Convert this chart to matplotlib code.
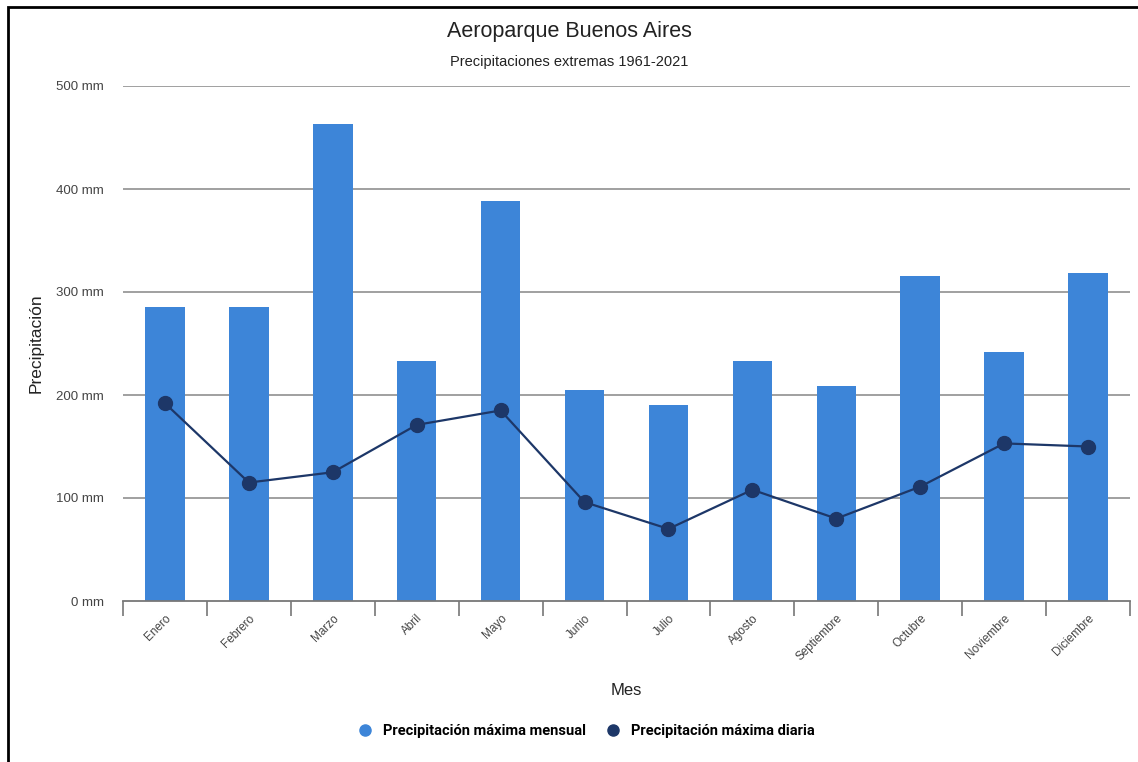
import matplotlib
matplotlib.use("Agg")
import matplotlib.pyplot as plt
import numpy as np
from matplotlib.lines import Line2D
from matplotlib.patches import Rectangle

meses = ["Enero", "Febrero", "Marzo", "Abril", "Mayo", "Junio", "Julio",
         "Agosto", "Septiembre", "Octubre", "Noviembre", "Diciembre"]
max_mensual = [285, 285, 463, 233, 388, 205, 190, 233, 209, 316, 242, 318]
max_diaria = [192, 115, 125, 171, 185, 96, 70, 108, 80, 111, 153, 150]
yticks = [0, 100, 200, 300, 400, 500]

bar_color = "#3d85d8"
line_color = "#1d3768"
text_color = "#444444"

plt.rcParams["font.family"] = ["Liberation Sans", "DejaVu Sans"]

fig = plt.figure(figsize=(11.38, 7.62), dpi=100)
ax = fig.add_axes([123 / 1138, 1 - 601 / 762, 1007 / 1138, 515 / 762])

x = np.arange(len(meses))
ax.bar(x, max_mensual, width=0.47, color=bar_color, zorder=2)
ax.plot(x, max_diaria, color=line_color, lw=1.6, marker="o", ms=10,
        markerfacecolor=line_color, markeredgecolor=line_color, zorder=3)

ax.set_xlim(-0.5, len(meses) - 0.5)
ax.set_ylim(0, 500)

# grid lines (the zero line is drawn as the bottom axis)
for v in yticks[1:]:
    ax.axhline(v, color="#999999", lw=1.3, zorder=1)

for s in ["top", "right", "left"]:
    ax.spines[s].set_visible(False)
ax.spines["bottom"].set_color("#777777")
ax.spines["bottom"].set_linewidth(1.3)

ax.set_yticks(yticks)
ax.set_yticklabels([f"{v} mm" for v in yticks], fontsize=9.5, color=text_color)
ax.tick_params(axis="y", length=0, pad=14)

# category labels centred, ticks on the boundaries
ax.set_xticks(x)
ax.set_xticklabels(meses, rotation=45, ha="right", rotation_mode="anchor",
                   fontsize=8.5, color=text_color)
ax.tick_params(axis="x", which="major", length=0, pad=8)
ax.set_xticks(np.arange(-0.5, len(meses)), minor=True)
ax.tick_params(axis="x", which="minor", length=11, width=1.2, color="#777777")

ax.set_ylabel("Precipitación", fontsize=12.5, color="#222222")
ax.yaxis.set_label_coords(-0.079, 0.5)
ax.set_xlabel("Mes", fontsize=12, color="#222222")
ax.xaxis.set_label_coords(0.5, -0.16)

fig.text(0.5, 1 - 32 / 762, "Aeroparque Buenos Aires", ha="center", va="center",
         fontsize=15.5, color="#222222")
fig.text(0.5, 1 - 62 / 762, "Precipitaciones extremas 1961-2021", ha="center",
         va="center", fontsize=10.5, color="#222222")

handles = [
    Line2D([], [], ls="none", marker="o", ms=8, color=bar_color),
    Line2D([], [], ls="none", marker="o", ms=8, color=line_color),
]
fig.legend(handles, ["Precipitación máxima mensual", "Precipitación máxima diaria"],
           loc="center", bbox_to_anchor=(0.512, 1 - 731 / 762), ncol=2, frameon=False,
           prop={"family": "Roboto", "weight": "bold", "size": 10.5},
           handletextpad=0.2, columnspacing=0.9)

# outer frame
fig.patches.append(Rectangle((8 / 1138, -0.05), 1.2, 1.05 - 7 / 762,
                             transform=fig.transFigure, fill=False,
                             edgecolor="black", lw=2))

fig.savefig("out.png", dpi=100)
